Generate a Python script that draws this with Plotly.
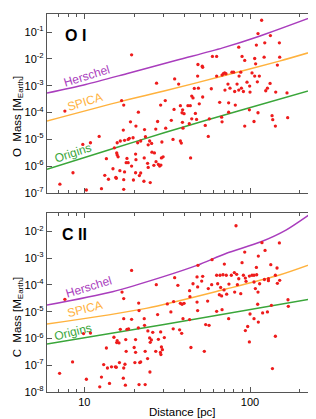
import math
import plotly.graph_objects as go

# ---------------- data: O I panel ----------------
o_dist = [117.5, 111.7, 132.7, 19.3, 85.5, 109.2, 122.7, 150.3, 59.3, 62.9,
          89.5, 92.9, 106.7, 121.6, 151.0, 48.5, 51.5, 51.8, 108.1, 146.2,
          48.3, 35.1, 62.9, 67.8, 69.0, 70.3, 71.6, 77.8, 79.6, 85.9,
          87.9, 102.8, 106.7, 27.3, 37.1, 73.6, 83.5, 95.9, 99.5, 110.7,
          113.8, 132.1, 48.8, 58.4, 70.6, 75.7, 80.8, 85.5, 88.7, 91.2,
          100, 124.4, 127.3, 142.9, 44.5, 46.1, 45.3, 167.1, 16.8, 17.3,
          30.8, 28.9, 34.8, 38.0, 39.2, 42.2, 43.6, 49.4, 51.8, 65.6,
          74.3, 81.5, 99.1, 111.7, 135.8, 7.64, 21.2, 38.9, 40.0, 46.8,
          47.6, 56.8, 67.4, 67.8, 74.3, 137.1, 105.7, 168.7, 19.0, 20.5,
          27.7, 33.5, 39.1, 43.0, 44.5, 53.7, 92.9, 142.2, 17.2, 23.1,
          27.0, 31.0, 39.4, 56.0, 12.3, 18.4, 18.7, 19.7, 23.4, 24.8,
          25.5, 29.4, 34.3, 38.0, 38.5, 9.8, 10.9, 15.8, 16.5, 17.5,
          15.2, 15.7, 15.8, 16.0, 21.0, 21.9, 24.3, 25.6, 26.5, 13.6,
          18.1, 20.4, 20.5, 23.0, 27.1, 29.2, 29.9, 43.8, 17.9, 18.4,
          19.3, 24.1, 24.3, 26.3, 28.0, 28.5, 29.0, 8.55, 14.9, 16.4,
          20.4, 21.9, 21.5, 13.3, 14.0, 15.5, 15.6, 17.5, 17.3, 19.8,
          22.9, 25.0, 7.13, 10.3, 12.7, 17.3]
o_mass = [0.28, 0.089, 0.075, 0.0143, 0.0275, 0.033, 0.040, 0.040, 0.0124, 0.0124,
          0.0124, 0.0088, 0.0104, 0.0117, 0.0117, 0.0062, 0.0054, 0.0049, 0.0066, 0.0059,
          0.0023, 0.0018, 0.0023, 0.0025, 0.0028, 0.0030, 0.0028, 0.0032, 0.0032, 0.0023,
          0.0032, 0.0030, 0.0023, 0.00125, 0.00115, 0.00115, 0.00115, 0.00136, 0.00097, 0.0014,
          0.0023, 0.00122, 8.1e-4, 7.7e-4, 6.9e-4, 8.1e-4, 6.1e-4, 6.9e-4, 8.1e-4, 6.1e-4,
          5.8e-4, 6.5e-4, 8.1e-4, 5.8e-4, 4.1e-4, 7.9e-4, 3.5e-4, 5.4e-4, 2.8e-4, 1.9e-4,
          2.8e-4, 1.9e-4, 1.3e-4, 1.8e-4, 1.26e-4, 1.8e-4, 1.8e-4, 2.1e-4, 3.8e-4, 2.4e-4,
          2.3e-4, 1.9e-4, 1.26e-4, 9.8e-5, 7.6e-5, 1.13e-4, 1.03e-4, 9.8e-5, 9.0e-5, 9.2e-5,
          5.5e-5, 5.8e-5, 6.7e-5, 4.5e-5, 1.03e-4, 5.4e-5, 4.6e-5, 6.4e-5, 4.5e-5, 3.1e-5,
          4.6e-5, 5.1e-5, 4.3e-5, 3.8e-5, 5.8e-5, 3.3e-5, 3.1e-5, 3.1e-5, 2.2e-5, 2.3e-5,
          2.4e-5, 2.6e-5, 2.6e-5, 1.28e-5, 1.28e-5, 9.9e-6, 1.08e-5, 1.14e-5, 1.24e-5, 8.6e-6,
          7.0e-6, 7.9e-6, 9.9e-6, 8.6e-6, 7.2e-6, 6.4e-6, 7.4e-6, 7.4e-6, 8.6e-6, 9.1e-6,
          4.8e-6, 3.1e-6, 2.6e-6, 2.2e-6, 7.4e-6, 8.6e-6, 6.2e-6, 3.3e-6, 3.1e-6, 1.88e-6,
          1.93e-6, 2.8e-6, 1.72e-6, 2.0e-6, 1.45e-6, 2.0e-6, 2.2e-6, 2.0e-6, 1.33e-6, 1.33e-6,
          1.0e-6, 1.26e-6, 8.9e-7, 1.06e-6, 1.15e-6, 1.0e-6, 1.09e-6, 5.6e-7, 7.9e-7, 6.7e-7,
          5.6e-7, 5.5e-7, 4.4e-7, 4.5e-7, 3.2e-7, 3.8e-7, 3.5e-7, 6.0e-7, 3.1e-7, 3.0e-7,
          2.7e-7, 2.4e-7, 2.1e-7, 1.27e-7, 1.43e-7, 1.35e-7]

o_herschel_d = [5.96, 10.2, 18.7, 37.4, 68.4, 113.8, 250]
o_herschel_m = [5.3e-4, 1.11e-3, 3.0e-3, 9.5e-3, 0.026, 0.071, 0.42]
o_spica_d = [5.96, 17.0, 30.3, 68.4, 150.3, 250]
o_spica_m = [4.8e-5, 2.66e-4, 6.3e-4, 2.3e-3, 8.3e-3, 0.0207]
o_origins_d = [5.96, 14.8, 30.3, 94.6, 250]
o_origins_m = [7.5e-7, 4.4e-6, 1.75e-5, 1.38e-4, 7.7e-4]

# ---------------- data: C II panel ----------------
c_dist = [82.3, 19.3, 48.5, 59.0, 118.0, 150.3, 92.9, 112.2, 123.2, 70.0,
          89.5, 109.2, 133.4, 145.5, 35.1, 47.9, 51.8, 51.1, 62.9, 65.9,
          68.7, 71.9, 77.1, 80.4, 83.1, 85.5, 91.2, 93.7, 99.1, 102.8,
          105.7, 109.7, 122.1, 129.1, 142.2, 151.0, 146.2, 27.2, 36.7, 45.3,
          48.3, 58.7, 63.8, 74.6, 83.9, 94.6, 105.7, 107.7, 114.3, 129.1,
          43.2, 56.0, 66.5, 69.7, 72.3, 80.8, 87.9, 111.7, 16.9, 17.3,
          31.7, 34.6, 38.0, 38.9, 40.0, 43.4, 47.9, 55.5, 65.3, 67.4,
          111.2, 134.6, 169.4, 170.2, 7.64, 21.3, 21.4, 33.3, 39.4, 43.2,
          48.3, 62.9, 67.8, 74.3, 100, 105.7, 112.2, 119.1, 127.3, 17.3,
          19.3, 23.0, 27.7, 34.4, 37.6, 38.7, 54.0, 56.6, 96.8, 93.7,
          142.2, 99.1, 9.9, 10.9, 16.5, 18.1, 18.5, 21.2, 23.1, 24.2,
          25.9, 28.9, 15.1, 15.8, 15.7, 16.2, 17.8, 20.4, 24.8, 25.4,
          25.0, 28.0, 30.4, 13.6, 17.9, 20.0, 20.4, 23.3, 24.1, 27.0,
          28.8, 29.0, 29.6, 29.2, 44.0, 53.0, 8.5, 13.1, 14.6, 16.3,
          13.8, 15.4, 15.6, 17.3, 17.6, 20.2, 21.6, 21.9, 24.9, 7.1,
          10.3, 12.7, 14.2, 17.2, 17.7, 12.4, 21.4, 23.3, 136.5]
c_mass = [0.0163, 3.5e-4, 5.4e-4, 8.8e-4, 3.8e-3, 3.7e-3, 1.69e-3, 1.2e-3, 1.95e-3, 6.0e-4,
          6.8e-4, 4.5e-4, 5.7e-4, 4.3e-4, 1.87e-4, 2.0e-4, 2.1e-4, 1.4e-4, 2.3e-4, 2.3e-4,
          2.4e-4, 2.3e-4, 2.3e-4, 2.9e-4, 2.5e-4, 1.7e-4, 2.3e-4, 1.8e-4, 2.15e-4, 2.3e-4,
          2.3e-4, 2.4e-4, 1.6e-4, 1.7e-4, 2.3e-4, 1.49e-4, 1.15e-4, 1.02e-4, 9.7e-5, 1.11e-4,
          8.4e-5, 1.02e-4, 1.11e-4, 1.08e-4, 1.02e-4, 1.36e-4, 1.29e-4, 7.3e-5, 1.11e-4, 1.44e-4,
          6.1e-5, 7.3e-5, 8.1e-5, 6.5e-5, 4.5e-5, 5.4e-5, 4.7e-5, 5.4e-5, 5.4e-5, 3.1e-5,
          1.95e-5, 2.4e-5, 2.05e-5, 1.9e-5, 2.05e-5, 3.65e-5, 2.3e-5, 2.5e-5, 4.3e-5, 3.9e-5,
          1.9e-5, 1.73e-5, 2.8e-5, 1.59e-5, 2.9e-5, 2.1e-5, 1.1e-5, 9.8e-6, 5.5e-6, 5.1e-6,
          1.1e-5, 1.03e-5, 1.19e-5, 5.5e-6, 8.2e-6, 5.5e-6, 4.1e-6, 9.0e-6, 9.8e-6, 5.5e-6,
          5.2e-6, 5.5e-6, 7.8e-6, 2.3e-6, 2.1e-6, 1.56e-6, 3.3e-6, 3.1e-6, 2.8e-6, 1.97e-6,
          1.21e-6, 7.4e-7, 1.52e-6, 1.6e-6, 2.2e-6, 2.2e-6, 2.3e-6, 2.5e-6, 3.1e-6, 1.91e-6,
          1.7e-6, 1.75e-6, 1.11e-6, 8.3e-7, 7.0e-7, 6.8e-7, 9.1e-7, 9.1e-7, 1.05e-6, 8.8e-7,
          7.2e-7, 9.3e-7, 1.08e-6, 4.4e-7, 3.3e-7, 4.6e-7, 3.05e-7, 3.3e-7, 1.77e-7, 3.3e-7,
          3.0e-7, 2.5e-7, 3.8e-7, 4.8e-7, 4.6e-7, 3.3e-7, 1.33e-7, 1.06e-7, 8.7e-8, 1.26e-7,
          7.9e-8, 8.7e-8, 8.4e-8, 7.9e-8, 1.09e-7, 1.26e-7, 1.26e-7, 1.33e-7, 5.6e-8, 5.0e-8,
          3.0e-8, 3.6e-8, 2.1e-8, 3.3e-8, 1.8e-8, 1.56e-8, 1.9e-8, 1.9e-8, 7.5e-8]

c_herschel_d = [5.96, 14.8, 29.7, 48.3, 71.6, 116.5, 164.7, 233.4, 250]
c_herschel_m = [1.77e-5, 5.6e-5, 2.0e-4, 5.5e-4, 1.5e-3, 4.1e-3, 0.0112, 0.047, 0.063]
c_spica_d = [5.96, 23.6, 71.6, 150.3, 250]
c_spica_m = [3.45e-6, 1.33e-5, 7.0e-5, 2.34e-4, 6.95e-4]
c_origins_d = [5.96, 30.3, 250]
c_origins_m = [6.2e-7, 3.36e-6, 3.2e-5]

x_major = [10, 100]
x_minor = [7, 8, 9, 20, 30, 40, 50, 60, 70, 80, 90, 200]
o_yticks = [1e-7, 1e-6, 1e-5, 1e-4, 1e-3, 1e-2, 1e-1]
o_ytext = ["10<sup>-7</sup>", "10<sup>-6</sup>", "10<sup>-5</sup>", "10<sup>-4</sup>",
           "10<sup>-3</sup>", "10<sup>-2</sup>", "10<sup>-1</sup>"]
c_yticks = [1e-8, 1e-7, 1e-6, 1e-5, 1e-4, 1e-3, 1e-2]
c_ytext = ["10<sup>-8</sup>", "10<sup>-7</sup>", "10<sup>-6</sup>", "10<sup>-5</sup>",
           "10<sup>-4</sup>", "10<sup>-3</sup>", "10<sup>-2</sup>"]

PURPLE = "#a93dbd"
ORANGE = "#ffb23e"
GREEN = "#3aa63a"
RED = "#ee1c1c"
AX = "#555555"
FONT = "Liberation Sans, Arial, Helvetica, sans-serif"

fig = go.Figure()

def add_panel(xa, ya, dist, mass, lines):
    for d, m, c in lines:
        fig.add_trace(go.Scatter(x=d, y=m, mode="lines", xaxis=xa, yaxis=ya,
                                 line=dict(color=c, width=1.5, shape="spline", smoothing=0.8),
                                 hoverinfo="skip", showlegend=False))
    fig.add_trace(go.Scatter(x=dist, y=mass, mode="markers", xaxis=xa, yaxis=ya,
                             marker=dict(color=RED, size=3.3, line=dict(width=0)),
                             showlegend=False))

add_panel("x2", "y2", o_dist, o_mass,
          [(o_herschel_d, o_herschel_m, PURPLE), (o_spica_d, o_spica_m, ORANGE),
           (o_origins_d, o_origins_m, GREEN)])
add_panel("x", "y", c_dist, c_mass,
          [(c_herschel_d, c_herschel_m, PURPLE), (c_spica_d, c_spica_m, ORANGE),
           (c_origins_d, c_origins_m, GREEN)])

xr = [math.log10(5.96), math.log10(250)]
def xaxis(show_labels, anchor):
    return dict(type="log", range=xr, anchor=anchor, domain=[0, 1],
                tickvals=x_major, ticktext=["10", "100"], showticklabels=show_labels,
                ticks="inside", ticklen=5, tickwidth=1, tickcolor=AX,
                minor=dict(tickvals=x_minor, ticks="inside", ticklen=3, tickcolor=AX, showgrid=False),
                showline=True, linecolor=AX, linewidth=1.3, mirror="ticks",
                showgrid=False, zeroline=False,
                tickfont=dict(family=FONT, size=11, color="black"))

def yaxis(rng, dom, vals, text, anchor):
    return dict(type="log", range=rng, domain=dom, anchor=anchor,
                tickvals=vals, ticktext=text,
                ticks="inside", ticklen=5, tickwidth=1, tickcolor=AX,
                showline=True, linecolor=AX, linewidth=1.3, mirror="ticks",
                showgrid=False, zeroline=False,
                tickfont=dict(family=FONT, size=11, color="black"))

fig.update_layout(
    width=316, height=419,
    margin=dict(l=39, r=8, t=6, b=34.5),
    paper_bgcolor="white", plot_bgcolor="white",
    font=dict(family=FONT, size=11, color="black"),
    xaxis=xaxis(True, "y"),
    yaxis=yaxis([-8, -1.32], [0, 0.473], c_yticks, c_ytext, "x"),
    xaxis2=xaxis(False, "y2"),
    yaxis2=yaxis([-7, -0.32], [0.527, 1], o_yticks, o_ytext, "x2"),
)

def ann(text, x, y, color="black", size=12, angle=0, bold=False):
    fig.add_annotation(text=("<b>%s</b>" % text) if bold else text, x=x, y=y,
                       xref="paper", yref="paper", showarrow=False,
                       xanchor="center", yanchor="middle", textangle=angle,
                       font=dict(family=FONT, size=size, color=color))

# x title
ann("Distance [pc]", 0.5, -0.052, size=11.5)
# panel titles
ann("O I", 0.106, 0.943, size=16, bold=True)
ann("C II", 0.103, 0.417, size=16, bold=True)
# y titles
ann("O&nbsp;&nbsp;Mass [M<sub>Earth</sub>]", -0.108, 0.730, size=11.5, angle=-90)
ann("C&nbsp;&nbsp;Mass [M<sub>Earth</sub>]", -0.108, 0.200, size=11.5, angle=-90)
# line labels
ann("Herschel", 0.147, 0.837, PURPLE, 12, -17)
ann("SPICA", 0.140, 0.767, ORANGE, 12, -17)
ann("Origins", 0.096, 0.632, GREEN, 12, -18)
ann("Herschel", 0.155, 0.279, PURPLE, 12, -17)
ann("SPICA", 0.140, 0.219, ORANGE, 12, -14)
ann("Origins", 0.096, 0.159, GREEN, 12, -14)

fig.write_html("out.html")
